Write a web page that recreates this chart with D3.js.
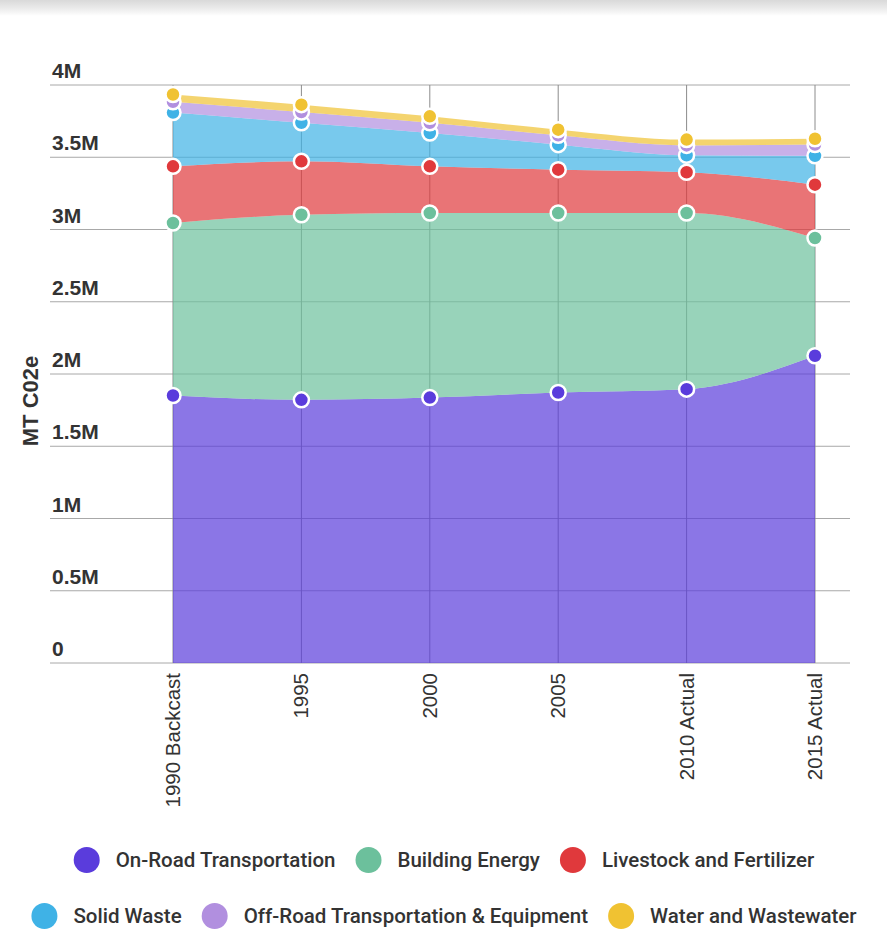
<!DOCTYPE html>
<html>
<head>
<meta charset="utf-8">
<script src="https://cdn.jsdelivr.net/npm/d3@7"></script>
<style>
  html, body { margin: 0; padding: 0; background: #fff; }
  svg { display: block; }
</style>
</head>
<body>
<svg id="chart" width="887" height="930"></svg>
<script>
// Emissions by sector, metric tons CO2e
const categories = ["1990 Backcast", "1995", "2000", "2005", "2010 Actual", "2015 Actual"];
const seriesNames = ["On-Road Transportation", "Building Energy", "Livestock and Fertilizer",
                     "Solid Waste", "Off-Road Transportation & Equipment", "Water and Wastewater"];
const onRoad    = [1851000, 1821000, 1837000, 1872000, 1895000, 2126000];
const building  = [1194000, 1281000, 1277000, 1242000, 1219000,  815000];
const livestock = [ 392000,  370000,  323000,  300000,  282000,  369000];
const solidWaste= [ 372000,  266000,  231000,  173000,  118000,  200000];
const offRoad   = [  75000,   75000,   70000,   65000,   68000,   78000];
const water     = [  50000,   51000,   45000,   39000,   40000,   40000];
const yTicks = [0, 500000, 1000000, 1500000, 2000000, 2500000, 3000000, 3500000, 4000000];
const yTickLabels = ["0", "0.5M", "1M", "1.5M", "2M", "2.5M", "3M", "3.5M", "4M"];

const seriesValues = [onRoad, building, livestock, solidWaste, offRoad, water];
const dotColors  = ["#5a3cdc", "#6cc09c", "#e0393c", "#3fb2e6", "#b18fdf", "#f0c232"];

const rows = categories.map((c, i) => {
  const r = { cat: c };
  seriesNames.forEach((s, k) => { r[s] = seriesValues[k][i]; });
  return r;
});

const svg = d3.select("#chart");

// soft shadow strip along the top edge
const defs = svg.append("defs");
const grad = defs.append("linearGradient").attr("id", "topShade")
  .attr("x1", 0).attr("y1", 0).attr("x2", 0).attr("y2", 1);
grad.append("stop").attr("offset", "0%").attr("stop-color", "#d9d9d9");
grad.append("stop").attr("offset", "55%").attr("stop-color", "#ececec");
grad.append("stop").attr("offset", "100%").attr("stop-color", "#ffffff");
svg.append("rect").attr("x", 0).attr("y", 0).attr("width", 887).attr("height", 16)
  .attr("fill", "url(#topShade)");

const left = 50, right = 850;
const x = d3.scalePoint().domain(categories).range([173, 815]);
const y = d3.scaleLinear().domain([0, 4000000]).range([663, 85]);

// horizontal grid + tick labels
const gy = svg.append("g");
gy.selectAll("line").data(yTicks).join("line")
  .attr("x1", left).attr("x2", right)
  .attr("y1", d => y(d)).attr("y2", d => y(d))
  .attr("stroke", "#a8a8a8").attr("stroke-width", 1);
gy.selectAll("text").data(yTicks).join("text")
  .attr("x", 52).attr("y", d => y(d) - 7)
  .attr("font-family", "Liberation Sans, Arial, sans-serif")
  .attr("font-size", 21).attr("font-weight", 700).attr("fill", "#333")
  .text((d, i) => yTickLabels[i]);

// vertical grid at each category
svg.append("g").selectAll("line").data(categories).join("line")
  .attr("x1", d => x(d)).attr("x2", d => x(d))
  .attr("y1", y(4000000)).attr("y2", y(0))
  .attr("stroke", "#8c8c8c").attr("stroke-width", 1);

// stacked areas
const stack = d3.stack().keys(seriesNames);
const layers = stack(rows);
const area = d3.area()
  .x(d => x(d.data.cat))
  .y0(d => y(d[0]))
  .y1(d => y(d[1]))
  .curve(d3.curveMonotoneX);

svg.append("g").selectAll("path").data(layers).join("path")
  .attr("d", area)
  .attr("fill", (d, i) => dotColors[i])
  .attr("fill-opacity", 0.7);

// markers on top of each layer
layers.forEach((layer, i) => {
  svg.append("g").selectAll("circle").data(layer).join("circle")
    .attr("cx", d => x(d.data.cat))
    .attr("cy", d => y(d[1]))
    .attr("r", 7.5)
    .attr("fill", dotColors[i])
    .attr("stroke", "#fff").attr("stroke-width", 2.5);
});

// x-axis labels, rotated
svg.append("g").selectAll("text").data(categories).join("text")
  .attr("transform", d => `translate(${x(d) + 7},${673}) rotate(-90)`)
  .attr("text-anchor", "end")
  .attr("font-family", "Liberation Sans, Arial, sans-serif")
  .attr("font-size", 20.5).attr("fill", "#333")
  .text(d => d);

// y-axis title
svg.append("text")
  .attr("transform", `translate(38,401) rotate(-90)`)
  .attr("text-anchor", "middle")
  .attr("font-family", "Liberation Sans, Arial, sans-serif")
  .attr("font-size", 22).attr("font-weight", 700).attr("fill", "#333")
  .text("MT C02e");

// legend, centred rows
const legendRows = [[0, 1, 2], [3, 4, 5]];
const legendY = [860, 916];
const lg = svg.append("g");
const fontLegend = { family: "Roboto, sans-serif", size: 20.5, weight: 500 };
const probe = lg.append("text")
  .attr("font-family", fontLegend.family).attr("font-size", fontLegend.size)
  .attr("font-weight", fontLegend.weight);
const widthOf = s => { probe.text(s); return probe.node().getComputedTextLength(); };
const r = 13, gapDotText = 16, gapItems = 20;
legendRows.forEach((idxs, ri) => {
  const widths = idxs.map(k => widthOf(seriesNames[k]));
  const total = d3.sum(widths) + idxs.length * (2 * r + gapDotText) + (idxs.length - 1) * gapItems;
  let cx = 444 - total / 2;
  idxs.forEach((k, j) => {
    lg.append("circle").attr("cx", cx + r).attr("cy", legendY[ri]).attr("r", r)
      .attr("fill", dotColors[k]);
    lg.append("text").attr("x", cx + 2 * r + gapDotText).attr("y", legendY[ri] + 7)
      .attr("font-family", fontLegend.family).attr("font-size", fontLegend.size)
      .attr("font-weight", fontLegend.weight).attr("fill", "#333")
      .text(seriesNames[k]);
    cx += 2 * r + gapDotText + widths[j] + gapItems;
  });
});
probe.remove();
</script>
</body>
</html>
